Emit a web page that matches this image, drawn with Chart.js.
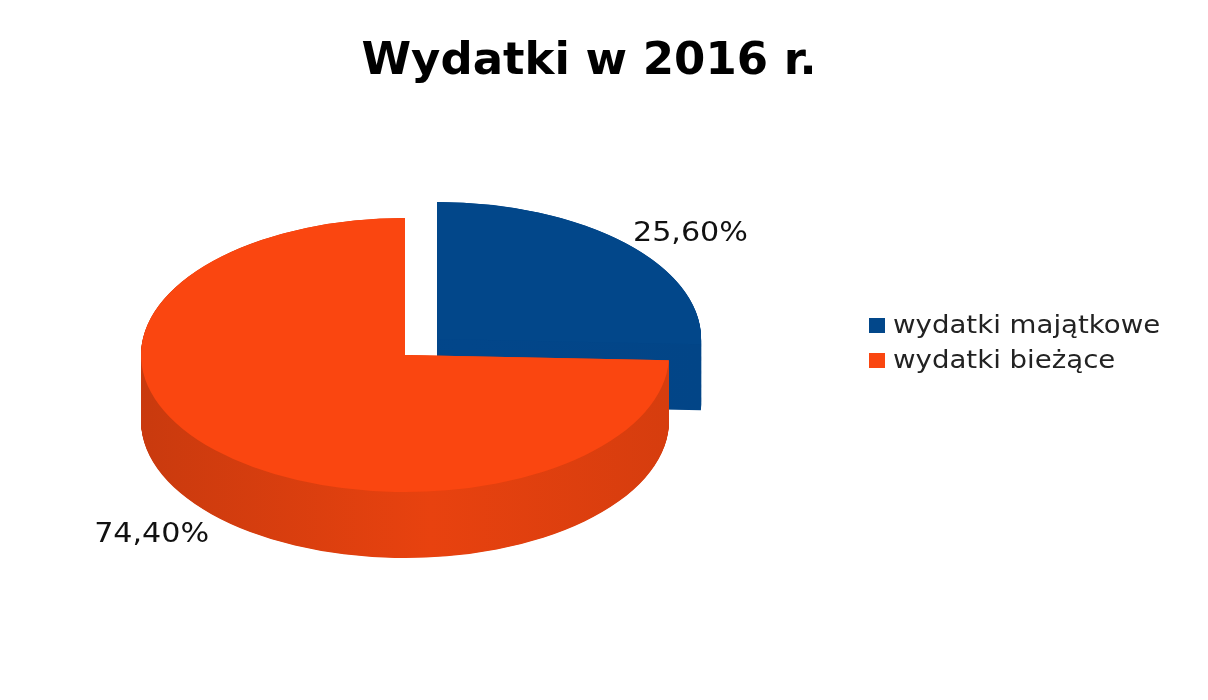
<!DOCTYPE html>
<html>
<head>
<meta charset="utf-8">
<script src="https://cdn.jsdelivr.net/npm/chart.js@4/dist/chart.umd.min.js"></script>
<style>
  html, body { margin: 0; padding: 0; background: #ffffff; }
  #wrap { width: 1208px; height: 700px; position: relative; }
</style>
</head>
<body>
<div id="wrap"><canvas id="c"></canvas></div>
<script>
const chartTitle = 'Wydatki w 2016 r.';
const categories = ['wydatki majątkowe', 'wydatki bieżące'];
const values = [25.6, 74.4];
const topColors = ['#02478A', '#FA4610'];
const sideColors = [['#024586', '#02468A', '#024587'], ['#C93A0E', '#E8420F', '#D63D0E']];
const explode = [178, 0];

// 3D projection settings
const CENTER_X = 405, CENTER_Y = 355, TILT = 0.519, DEPTH = 66;

function arcOffset(arc) {
  const offset = (arc.options.offset || 0) / 4;
  const half = (arc.startAngle + arc.endAngle) / 2;
  const fix = 1 - Math.sin(Math.min(Math.PI, arc.circumference || 0));
  const total = offset + offset * fix;
  return { dx: Math.cos(half) * total, dy: Math.sin(half) * total };
}

const pie3d = {
  id: 'pie3d',
  beforeDatasetsDraw(chart) {
    const ctx = chart.ctx;
    const meta = chart.getDatasetMeta(0);
    const ref = meta.data[1];
    const cx = ref.x, cy = ref.y;
    ctx.save();
    ctx.translate(CENTER_X, CENTER_Y);
    ctx.scale(1, TILT);
    ctx.translate(-cx, -cy);
    const d = DEPTH / TILT;
    meta.data.forEach((arc, i) => {
      const o = arcOffset(arc);
      const x = arc.x + o.dx, y = arc.y + o.dy, r = arc.outerRadius;
      const p = new Path2D();
      p.moveTo(x, y);
      p.arc(x, y, r, arc.startAngle, arc.endAngle);
      p.closePath();
      const g = ctx.createLinearGradient(x - r, 0, x + r, 0);
      g.addColorStop(0, sideColors[i][0]);
      g.addColorStop(0.55, sideColors[i][1]);
      g.addColorStop(1, sideColors[i][2]);
      ctx.fillStyle = g;
      for (let k = d; k > 0; k -= 1) {
        ctx.save();
        ctx.translate(0, k);
        ctx.fill(p);
        ctx.restore();
      }
    });
  },
  afterDatasetsDraw(chart) {
    chart.ctx.restore();
  },
  afterDraw(chart) {
    const ctx = chart.ctx;
    const meta = chart.getDatasetMeta(0);
    const ref = meta.data[1];
    const cx = ref.x, cy = ref.y;
    // data labels
    meta.data.forEach((arc, i) => {
      const o = arcOffset(arc);
      const mid = (arc.startAngle + arc.endAngle) / 2;
      const r = arc.outerRadius * 1.03;
      const ux = arc.x + o.dx + Math.cos(mid) * r;
      const uy = arc.y + o.dy + Math.sin(mid) * r;
      let sx = CENTER_X + (ux - cx);
      let sy = CENTER_Y + (uy - cy) * TILT;
      const lower = Math.sin(mid) > 0;
      if (lower) sy += DEPTH + 23;
      const txt = values[i].toFixed(2).replace('.', ',') + '%';
      ctx.save();
      ctx.font = '26px "DejaVu Sans"';
      ctx.fillStyle = '#111111';
      ctx.textBaseline = 'alphabetic';
      ctx.textAlign = Math.cos(mid) > 0 ? 'left' : 'right';
      ctx.translate(sx, sy);
      ctx.scale(1.16, 1);
      ctx.fillText(txt, 0, 0);
      ctx.restore();
    });
    // legend
    categories.forEach((lab, i) => {
      const y = 318 + i * 35;
      ctx.save();
      ctx.fillStyle = topColors[i];
      ctx.fillRect(869, y, 16, 15);
      ctx.font = '24px "DejaVu Sans"';
      ctx.fillStyle = '#222222';
      ctx.textBaseline = 'alphabetic';
      ctx.textAlign = 'left';
      ctx.translate(893, y + 15);
      ctx.scale(1.15, 1);
      ctx.fillText(lab, 0, 0);
      ctx.restore();
    });
  }
};

new Chart(document.getElementById('c'), {
  type: 'pie',
  data: {
    labels: categories,
    datasets: [{
      data: values,
      backgroundColor: topColors,
      borderWidth: 0,
      offset: explode
    }]
  },
  options: {
    responsive: true,
    maintainAspectRatio: false,
    animation: false,
    radius: 264,
    layout: { padding: { left: 0, right: 30, top: 0, bottom: 0 } },
    events: [],
    plugins: {
      legend: { display: false },
      tooltip: { enabled: false },
      title: {
        display: true,
        text: chartTitle,
        color: '#000000',
        font: { family: 'DejaVu Sans', size: 45, weight: 'bold' },
        padding: { top: 35, bottom: 10 }
      }
    }
  },
  plugins: [pie3d]
});
</script>
</body>
</html>
